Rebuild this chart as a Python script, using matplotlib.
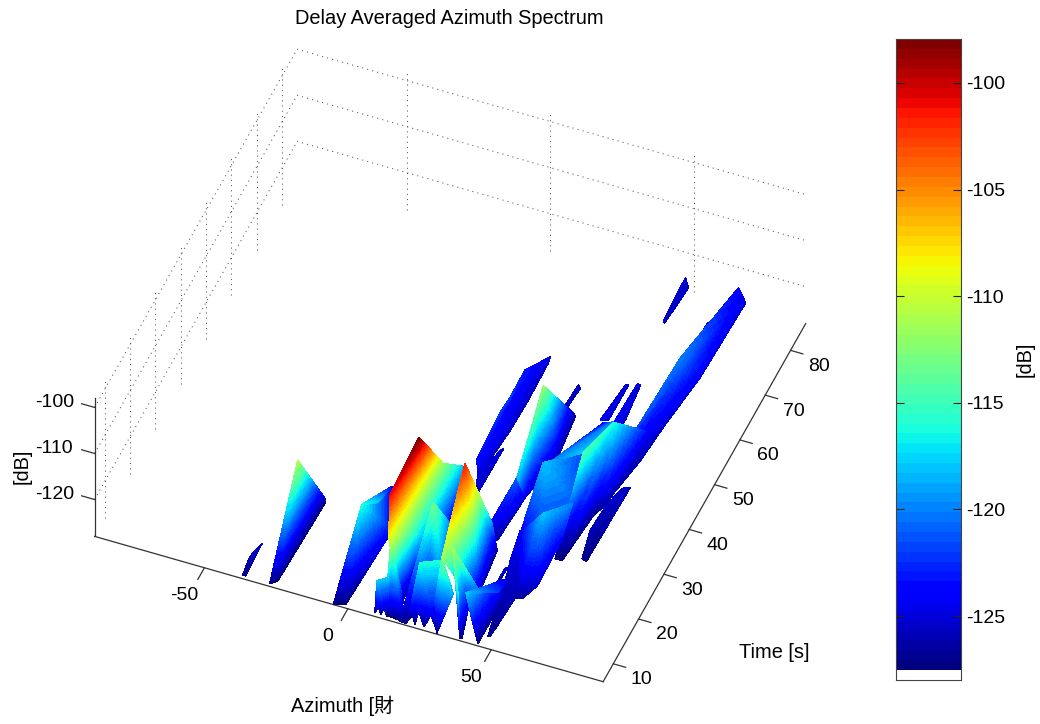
import numpy as np
import matplotlib
matplotlib.use('Agg')
import matplotlib.pyplot as plt
from matplotlib.colors import Normalize
from mpl_toolkits.mplot3d import proj3d
from mpl_toolkits.mplot3d.art3d import Poly3DCollection

plt.rcParams['font.family'] = ['Liberation Sans', 'Noto Sans CJK SC']
plt.rcParams['axes.unicode_minus'] = False

# spectrum patches, one row per patch: azimuth [deg], time [s], level [dB]
patch_az = [
    [-34.9, -36.3, -36.5, -35.5, -34.9],
    [-26.9, -24.4, -24.4, -25.4, -27.3],
    [-4.1, -1.2, -4.4, 3.1, -1.0, -4.7],
    [15.7, 14.4, 16.4],
    [15.1, 16.4, 14.4],
    [15.1, 19.2, 16.4],
    [15.1, 15.6, 19.2],
    [16.4, 18.1, 19.2],
    [11.8, 14.3, 13.3, 13.0, 11.2, 11.0, 9.2],
    [14.7, 17.5, 18.7, 13.6, 14.6],
    [19.3, 22.6, 26.5, 23.4, 20.2, 18.5],
    [23.2, 28.9, 30.9, 28.3, 26.3, 24.0, 23.1, 21.3, 20.5, 22.4],
    [31.2, 35.1, 35.7, 38.2, 35.8, 32.1],
    [31.3, 36.1, 31.2, 29.5],
    [34.5, 42.1, 38.4, 39.6, 39.0, 39.1],
    [40.6, 46.8, 45.0, 46.5, 45.3, 42.1],
    [41.6, 49.9, 48.9, 48.1, 47.5, 45.7, 42.9],
    [42.8, 42.3, 41.8, 42.4],
    [41.6, 42.9, 49.6, 54.9, 47.9, 42.1],
    [50.3, 55.7, 55.6, 54.9, 51.8, 49.5, 42.1],
    [57.4, 61.1, 63.4, 61.2, 58.6, 56.5, 54.1, 54.7],
    [42.1, 45.2, 48.3, 54.3, 51.9],
    [46.5, 47.7, 48.2, 48.5],
    [51.3, 51.7, 51.1, 51.8, 53.6, 52.9],
    [63.5, 63.7, 65.9, 69.8, 69.2, 65.8, 64.2, 61.0, 58.0, 61.2, 63.2],
    [61.8, 61.6, 62.2, 62.0],
    [47.5, 49.7, 48.1, 47.8],
    [66.1, 63.9, 62.0, 61.0, 62.6, 64.3, 64.9, 64.6],
    [16.8, 17.1, 17.7, 16.6, 20.4, 20.4, 20.7, 20.4, 19.5, 20.6],
    [21.2, 21.5, 21.3, 19.1],
    [33.4, 35.2, 36.4, 38.5, 36.7, 36.3],
    [34.0, 36.7, 34.4, 31.0],
    [33.2, 33.9, 33.2, 32.7],
]
patch_t = [
    [11.6, 8.4, 5.9, 5.8, 7.6],
    [16.7, 24.6, 24.5, 7.1, 6.1],
    [16.2, 19.2, 28.4, 19.9, 6.4, 5.7],
    [16.3, 6.3, 25.0],
    [5.1, 25.0, 6.3],
    [5.1, 25.4, 25.0],
    [5.1, 8.9, 25.4],
    [25.0, 31.8, 25.4],
    [4.1, 5.2, 6.3, 5.5, 6.4, 5.4, 6.3],
    [6.4, 7.9, 6.2, 6.4, 5.3],
    [17.8, 21.5, 12.3, 11.1, 6.0, 5.6],
    [8.2, 9.7, 6.2, 6.7, 6.3, 6.8, 6.3, 6.8, 6.1, 6.7],
    [16.9, 23.2, 24.5, 15.0, 10.5, 6.8],
    [7.7, 6.7, 5.8, 7.0],
    [8.4, 10.9, 10.7, 6.2, 6.1, 5.2],
    [6.7, 12.0, 19.1, 14.7, 6.1, 7.3],
    [27.0, 15.5, 9.6, 7.7, 7.6, 16.3, 21.5],
    [20.4, 20.1, 15.6, 15.7],
    [36.0, 37.3, 43.6, 32.4, 28.8, 26.4],
    [26.2, 31.5, 27.3, 18.6, 16.2, 16.0, 26.4],
    [45.8, 50.3, 52.9, 39.2, 36.5, 26.6, 26.6, 37.0],
    [38.2, 43.5, 52.2, 49.4, 40.1],
    [53.0, 61.6, 62.2, 53.9],
    [51.6, 55.0, 62.5, 62.9, 54.8, 52.9],
    [65.4, 69.6, 85.6, 84.0, 66.8, 56.0, 48.8, 40.5, 40.0, 51.1, 59.0],
    [78.1, 71.5, 71.7, 78.2],
    [85.5, 84.2, 76.6, 76.5],
    [42.6, 42.0, 37.8, 32.6, 27.6, 27.3, 32.2, 37.2],
    [38.0, 46.8, 51.2, 57.2, 62.9, 62.0, 53.8, 47.0, 41.3, 34.1],
    [42.2, 43.0, 33.3, 35.1],
    [45.4, 54.8, 54.6, 45.1, 34.5, 31.7],
    [34.4, 34.5, 26.0, 27.1],
    [59.5, 59.4, 55.0, 54.9],
]
patch_db = [
    [-125.5, -125.5, -127, -127, -126],
    [-111, -126.5, -127.5, -127.5, -127.5],
    [-116, -118, -124, -124, -127.5, -127.5],
    [-98, -101, -112],
    [-109, -112, -101],
    [-109, -125, -112],
    [-109, -127, -125],
    [-112, -119, -125],
    [-118, -118, -127.5, -125, -127.5, -125, -127.5],
    [-111, -125, -127.5, -127.5, -118],
    [-113, -121, -119, -126, -127.5, -127],
    [-116, -116, -127.5, -125, -127.5, -125, -127.5, -125, -127.5, -123],
    [-101.5, -120, -127, -126, -121, -112],
    [-113, -119, -127.5, -122],
    [-111, -122, -124, -127.5, -127.5, -117],
    [-118, -122, -126, -126, -127.5, -124],
    [-124, -126, -126.5, -127, -127, -126, -125],
    [-125.5, -125.5, -126, -126],
    [-118, -119, -122, -121, -121, -124],
    [-118, -120, -124, -125.5, -126.5, -126.5, -124],
    [-116, -121, -124, -126.5, -127, -127.5, -127.5, -114.5],
    [-120, -122, -124, -120, -118],
    [-124.5, -125, -125.5, -125],
    [-124, -124, -125, -125.5, -125, -125],
    [-120, -122.5, -124, -125, -124.5, -125.5, -126, -126.5, -125, -121.5, -121.5],
    [-125, -125, -125, -125.5],
    [-125, -125.5, -126, -125.5],
    [-125.5, -125.5, -125.5, -126, -127, -127, -126, -125.5],
    [-123.5, -122, -122, -123, -125, -125.5, -125.5, -125.5, -125.5, -126],
    [-125, -125.5, -125.5, -125],
    [-112, -126.5, -127, -126.5, -125, -118],
    [-121, -125, -126.5, -124.5],
    [-125.5, -126, -126, -125.5],
]

az_ticks = [-50, 0, 50]
t_ticks = [10, 20, 30, 40, 50, 60, 70, 80]
db_ticks = [-120, -110, -100]
cb_ticks = [-125, -120, -115, -110, -105, -100]

AZ_LIM = (-88.3, 89)
T_LIM = (6, 86)
DB_LIM = (-128, -98)
CB_LOW = -127.53
CB_HIGH = -97.94

W, H = 1040, 724
cmap = plt.get_cmap('jet', 64)
norm = Normalize(CB_LOW, CB_HIGH)

def split_facet(a, b, c):
    # cut one facet into small ones so the colour can follow dB across it
    n = int(np.clip(np.ptp([a[2], b[2], c[2]]) * 2.5, 3, 40))
    out = []
    def pt(i, j):
        k = n - i - j
        return (a * i + b * j + c * k) / n
    for i in range(n):
        for j in range(n - i):
            out.append([pt(i, j), pt(i + 1, j), pt(i, j + 1)])
            if i + j < n - 1:
                out.append([pt(i + 1, j), pt(i + 1, j + 1), pt(i, j + 1)])
    return out

fig = plt.figure(figsize=(W / 100, H / 100), dpi=100)
side = 773
ax = fig.add_axes([(439.7 - side / 2) / W, 1 - (371.3 + side / 2) / H, side / W, side / H], projection='3d', proj_type='ortho')
ax.computed_zorder = False
ax.view_init(elev=45.3, azim=-68.1)
ax.set_box_aspect((547, 542, 196))
ax.set_xlim(*AZ_LIM, view_margin=0)
ax.set_ylim(*T_LIM, view_margin=0)
ax.set_zlim(*DB_LIM, view_margin=0)
ax.set_axis_off()
M = ax.get_proj()

def label(a, t, d, s):
    x2, y2, _ = proj3d.proj_transform(a, t, d, M)
    ax.text2D(x2, y2, s, transform=ax.transData, ha='center', va='center', fontsize=fs)

grid = dict(color='#555555', lw=0.75, ls=(0, (1, 4)), zorder=1)
for t in t_ticks:
    ax.plot([AZ_LIM[0]] * 2, [t, t], DB_LIM, **grid)
for a in az_ticks:
    ax.plot([a, a], [T_LIM[1]] * 2, DB_LIM, **grid)
for d in db_ticks:
    ax.plot([AZ_LIM[0], AZ_LIM[0], AZ_LIM[1]], [T_LIM[0], T_LIM[1], T_LIM[1]], [d, d, d], **grid)

line = dict(color='#333333', lw=0.9, zorder=2)
ax.plot(AZ_LIM, [T_LIM[0]] * 2, [DB_LIM[0]] * 2, **line)
ax.plot([AZ_LIM[1]] * 2, T_LIM, [DB_LIM[0]] * 2, **line)
ax.plot([AZ_LIM[0]] * 2, [T_LIM[0]] * 2, DB_LIM, **line)

fs = 14
for a in az_ticks:
    ax.plot([a, a], [T_LIM[0], T_LIM[0] - 2.6], [DB_LIM[0]] * 2, **line)
    label(a - 1.3, T_LIM[0] - 6.4, DB_LIM[0], str(a))
for t in t_ticks:
    ax.plot([AZ_LIM[1], AZ_LIM[1] + 4.3], [t, t], [DB_LIM[0]] * 2, **line)
    label(AZ_LIM[1] + 11.2, t - 1.5, DB_LIM[0], str(t))
for d in db_ticks:
    ax.plot([AZ_LIM[0], AZ_LIM[0] - 4.5], [T_LIM[0]] * 2, [d, d], **line)
    label(AZ_LIM[0] - 14, T_LIM[0], d - 1.4, str(d))

polys, cols = [], []
for az, t, db in zip(patch_az, patch_t, patch_db):
    v = np.column_stack([az, t, db])
    for i in range(1, len(v) - 1):
        for tri in split_facet(v[0], v[i], v[i + 1]):
            polys.append(tri)
            cols.append(cmap(norm(np.mean([q[2] for q in tri]))))
surf = Poly3DCollection(polys, facecolors=cols, edgecolors=cols, linewidths=0.4, antialiaseds=False, zorder=3)
ax.add_collection3d(surf)

fs2 = 14.4
fig.suptitle('Delay Averaged Azimuth Spectrum', x=449 / W, y=1 - 18 / H, va='center', fontsize=fs2)
fig.text(291 / W, 1 - 706 / H, 'Azimuth [財', ha='left', va='center', fontsize=fs2)
fig.text(774 / W, 1 - 653 / H, 'Time [s]', ha='center', va='center', fontsize=fs2)
fig.text(22 / W, 1 - 466 / H, '[dB]', ha='center', va='center', rotation=90, fontsize=fs2)

cax = fig.add_axes([896 / W, 1 - 680 / H, 65 / W, 641 / H])
edges = np.linspace(CB_LOW, CB_HIGH, 65)
cax.pcolormesh([0, 1], edges, (edges[:-1] + edges[1:]).reshape(-1, 1) / 2, cmap=cmap, norm=norm)
cax.set_ylim(DB_LIM[0], CB_HIGH)
cax.set_xticks([])
cax.set_yticks(cb_ticks)
cax.tick_params(axis='y', direction='in', left=True, right=True, labelleft=False, labelright=True, length=5.5, width=0.8, labelsize=fs, pad=4, color='#222222')
cax.yaxis.set_label_position('right')
cax.set_ylabel('[dB]', fontsize=fs2, labelpad=7)
for s in cax.spines.values():
    s.set_color('#444444')
    s.set_linewidth(0.8)

fig.savefig('out.png', dpi=100)
